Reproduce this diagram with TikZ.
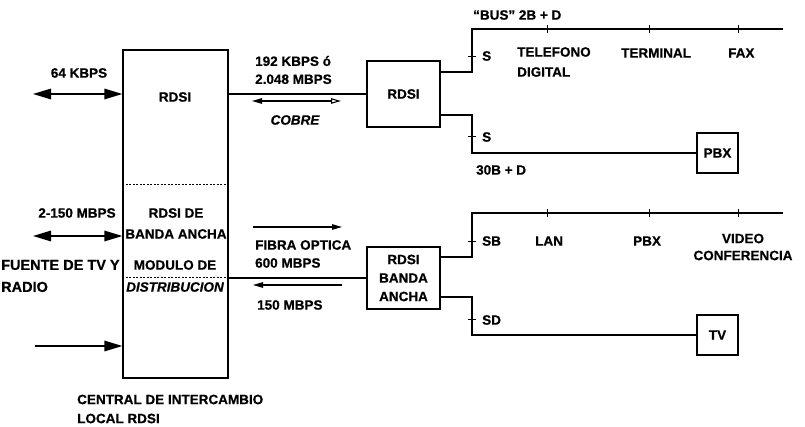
\documentclass[tikz,border=0pt]{standalone}
\usepackage{fontspec}
\setmainfont{Liberation Sans}[BoldFeatures={FakeBold=0.6}, BoldItalicFeatures={FakeBold=0.6}]
\usetikzlibrary{arrows.meta}
\begin{document}
\begin{tikzpicture}[x=1pt,y=-1pt,
  lbl/.style={font=\bfseries\fontsize{13.5}{19}\selectfont, inner sep=0pt},
  lbll/.style={lbl, align=left, anchor=west},
  lblc/.style={lbl, align=center},
  boxn/.style={draw, line width=1.2pt, font=\bfseries\fontsize{13.5}{18.5}\selectfont, align=center, inner sep=0pt},
  wire/.style={line width=1.1pt},
  bigarr/.style={line width=1.5pt, -{Triangle[length=18pt,width=10.5pt]}},
  bigarr2/.style={line width=1.5pt, {Triangle[length=18pt,width=10.5pt]}-{Triangle[length=18pt,width=10.5pt]}},
  smallarr/.style={line width=1.1pt, -{Triangle[length=10pt,width=5.5pt]}},
  tick/.style={line width=0.9pt}
]
\useasboundingbox (0,0) rectangle (805,427);

% main exchange box
\node[draw, line width=1.3pt, minimum width=105pt, minimum height=328pt, inner sep=0pt] (central) at (175.5,214) {};
\coordinate (d1) at (0,184);
\coordinate (d2) at (0,277);
\draw[line width=0.8pt, dash pattern=on 2pt off 1.5pt] (d1 -| central.west) -- (d1 -| central.east);
\draw[line width=0.8pt, dash pattern=on 2pt off 1.5pt] (d2 -| central.west) -- (d2 -| central.east);

\node[lblc] (trdsi) at (175,97) {RDSI};
\node[lblc, font=\bfseries\fontsize{13.5}{21}\selectfont] (tba) at (176,223.5) {RDSI DE\\BANDA ANCHA};
\node[lblc, font=\bfseries\fontsize{13.5}{22}\selectfont] (tmod) at (175,276) {MODULO DE\\\itshape DISTRIBUCION};

% left inputs
\coordinate (a64) at (33,94);
\coordinate (a2150) at (33,236);
\coordinate (atv) at (35,346);
\draw[bigarr2] (a64) -- (a64 -| central.west);
\draw[bigarr2] (a2150) -- (a2150 -| central.west);
\draw[bigarr] (atv) -- (atv -| central.west);
\node[lblc] (t64) at (79,73) {64 KBPS};
\node[lblc] (t2150) at (77,213) {2-150 MBPS};
\node[lbll, font=\bfseries\fontsize{14.5}{22}\selectfont] (tfuente) at (1,276) {FUENTE DE TV Y\\RADIO};
\node[lbll] (tcentral) at (77,409) {CENTRAL DE INTERCAMBIO\\LOCAL RDSI};

% RDSI (copper) branch
\node[boxn, minimum width=73pt, minimum height=66pt] (rdsi) at (403.5,94) {RDSI};
\draw[wire] (rdsi.west -| central.east) -- (rdsi.west);
\node[lbll, font=\bfseries\fontsize{13.5}{18}\selectfont] (t192) at (255,70) {192 KBPS ó\\2.048 MBPS};
\coordinate (cb1) at (252,101);
\coordinate (cb2) at (341,101);
\draw[line width=1.1pt, {Triangle[length=10pt,width=5.5pt]}-{Triangle[open,length=10pt,width=5.5pt]}] (cb1) -- (cb2);
\node[lblc] (tcobre) at (295,120) {\itshape COBRE};

\coordinate (j1) at (472,72);
\coordinate (bus1e) at (783,29);
\coordinate (j2) at (472,115);
\node[boxn, minimum width=41pt, minimum height=40pt] (pbx) at (717.5,153) {PBX};
\draw[wire] (j1 -| rdsi.east) -- (j1) |- (bus1e);
\draw[wire] (j2 -| rdsi.east) -- (j2) |- (pbx.west);

\coordinate (s1) at (472,56);
\coordinate (s2) at (472,136);
\draw[tick] ([xshift=-4pt]s1) -- ([xshift=4pt]s1);
\draw[tick] ([xshift=-4pt]s2) -- ([xshift=4pt]s2);
\coordinate (b1) at (547,29);
\coordinate (b2) at (649,29);
\coordinate (b3) at (738,29);
\foreach \b in {b1,b2,b3} \draw[tick] ([yshift=-4pt]\b) -- ([yshift=4pt]\b);

\node[lbll] (tbus) at (473,15) {``BUS'' 2B + D};
\node[lbll] (ts1) at (482,56) {S};
\node[lbll] (ts2) at (482,137) {S};
\node[lbll, font=\bfseries\fontsize{13.5}{20}\selectfont] (ttel) at (517,62) {TELEFONO\\DIGITAL};
\node[lbll] (tterm) at (621,53) {TERMINAL};
\node[lbll] (tfax) at (728,53) {FAX};
\node[lbll] (t30b) at (476,170) {30B + D};

% broadband branch
\node[boxn, minimum width=73pt, minimum height=62pt] (rdsiba) at (403.5,278) {RDSI\\BANDA\\ANCHA};
\draw[wire] (rdsiba.west -| central.east) -- (rdsiba.west);
\coordinate (f1) at (253,227);
\coordinate (f2) at (342,227);
\coordinate (f3) at (342,285);
\coordinate (f4) at (253,285);
\draw[smallarr] (f1) -- (f2);
\draw[smallarr] (f3) -- (f4);
\node[lbll, font=\bfseries\fontsize{13.5}{18}\selectfont] (tfibra) at (255,254) {FIBRA OPTICA\\600 MBPS};
\node[lbll] (t150) at (257,305) {150 MBPS};

\coordinate (j3) at (472,257);
\coordinate (bus2e) at (783,213);
\coordinate (j4) at (472,297);
\node[boxn, minimum width=41pt, minimum height=40pt] (tv) at (717.5,335) {TV};
\draw[wire] (j3 -| rdsiba.east) -- (j3) |- (bus2e);
\draw[wire] (j4 -| rdsiba.east) -- (j4) |- (tv.west);

\coordinate (s3) at (472,241);
\coordinate (s4) at (472,319);
\draw[tick] ([xshift=-4pt]s3) -- ([xshift=4pt]s3);
\draw[tick] ([xshift=-4pt]s4) -- ([xshift=4pt]s4);
\coordinate (c1) at (547,213);
\coordinate (c2) at (649,213);
\coordinate (c3) at (738,213);
\foreach \b in {c1,c2,c3} \draw[tick] ([yshift=-4pt]\b) -- ([yshift=4pt]\b);

\node[lbll] (tsb) at (482,241) {SB};
\node[lbll] (tsd) at (482,320) {SD};
\node[lbll] (tlan) at (535,241) {LAN};
\node[lbll] (tpbx2) at (633,241) {PBX};
\node[lblc, font=\bfseries\fontsize{13.5}{17}\selectfont] (tvideo) at (743,247) {VIDEO\\CONFERENCIA};
\end{tikzpicture}
\end{document}
